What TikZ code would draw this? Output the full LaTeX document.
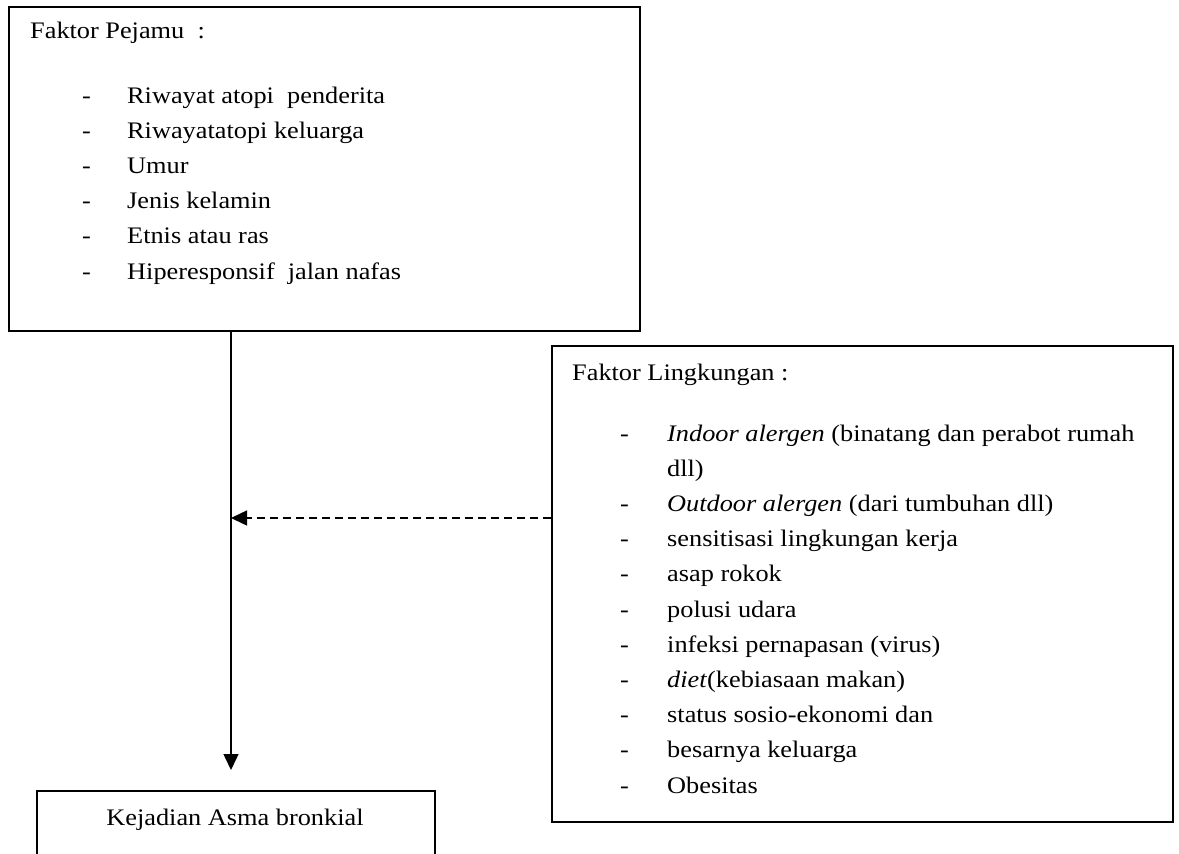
\documentclass[tikz,border=0pt]{standalone}
\usepackage{fontspec}
\setmainfont{Liberation Serif}[FakeStretch=1.11]
\usetikzlibrary{arrows.meta}
\tikzset{
  box/.style={draw, line width=1.6pt, inner sep=0pt, anchor=north west},
  txt/.style={anchor=base west, inner sep=0pt, font=\fontsize{23.7}{28}\selectfont},
  conn/.style={line width=1.5pt, -{Triangle[length=16pt,width=15pt]}},
  dconn/.style={conn, dash pattern=on 8pt off 5pt},
}
\begin{document}
\begin{tikzpicture}[x=1pt,y=-1pt]
\clip (0,0) rectangle (1179,854);
\fill[white] (0,0) rectangle (1179,854);
% boxes
\node[box, minimum width=631pt, minimum height=324pt] (pejamu) at (8,6) {};
\node[box, minimum width=621pt, minimum height=476pt] (lingk) at (551,345) {};
\node[box, minimum width=398pt, minimum height=120pt] (asma) at (36,790) {};
% top box text
\node[txt] (pt) at (30,38) {Faktor Pejamu\ \ :};
\foreach \i/\t in {0/{Riwayat atopi\ \ penderita},1/{Riwayatatopi keluarga},2/{Umur},3/{Jenis kelamin},4/{Etnis atau ras},5/{Hiperesponsif\ \ jalan nafas}}{
  \node[txt] (pd\i) at (82,103+35.2*\i) {-};
  \node[txt] (pi\i) at (127,103+35.2*\i) {\t};
}
% right box text
\node[txt] (lt) at (572,380) {Faktor Lingkungan :};
\foreach \i/\t in {0/{\textit{Indoor alergen} (binatang dan perabot rumah},2/{\textit{Outdoor alergen} (dari tumbuhan dll)},3/{sensitisasi lingkungan kerja},4/{asap rokok},5/{polusi udara},6/{infeksi pernapasan (virus)},7/{\textit{diet}(kebiasaan makan)},8/{status sosio-ekonomi dan},9/{besarnya keluarga},10/{Obesitas}}{
  \node[txt] (ld\i) at (620,441+35.2*\i) {-};
  \node[txt] (li\i) at (667,441+35.2*\i) {\t};
}
\node[txt] (li1) at (667,441+35.2) {dll)};
% bottom box text
\node[anchor=base, inner sep=0pt, font=\fontsize{23.7}{28}\selectfont] (at) at (235,825) {Kejadian Asma bronkial};
% connectors
\coordinate (tip) at (231,770);
\coordinate (mid) at (231,518);
\draw[conn] (pejamu.south -| tip) -- (tip);
\draw[dconn] (lingk.west |- mid) -- (mid);
\end{tikzpicture}
\end{document}
